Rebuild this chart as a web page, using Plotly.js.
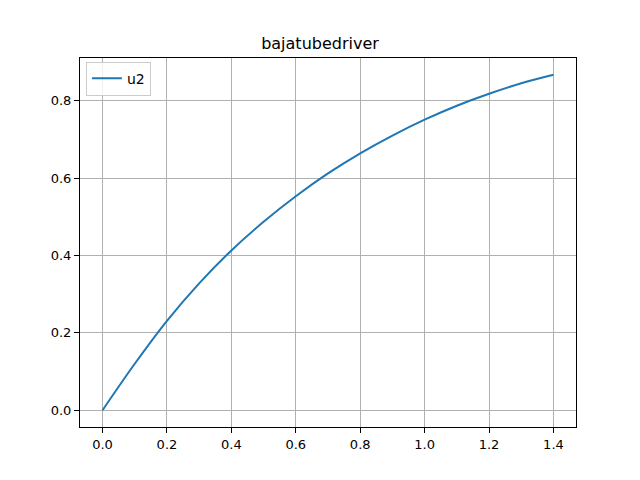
<!DOCTYPE html>
<html>
<head>
<meta charset="utf-8">
<script src="https://cdn.plot.ly/plotly-3.0.1.min.js"></script>
<style>html,body{margin:0;padding:0;background:#fff;}#chart{width:640px;height:480px;}</style>
</head>
<body>
<div id="chart"></div>
<script>
const xValues = [0.0, 0.1, 0.2, 0.3, 0.4, 0.5, 0.6, 0.7, 0.8, 0.9, 1.0, 1.1, 1.2, 1.3, 1.4];
const u2Values = [0.0, 0.120, 0.231, 0.328, 0.413, 0.487, 0.553, 0.612, 0.664, 0.710, 0.751, 0.787, 0.818, 0.845, 0.867];
const xTicks = [0.0, 0.2, 0.4, 0.6, 0.8, 1.0, 1.2, 1.4];
const xTickLabels = ["0.0", "0.2", "0.4", "0.6", "0.8", "1.0", "1.2", "1.4"];
const yTicks = [0.0, 0.2, 0.4, 0.6, 0.8];
const yTickLabels = ["0.0", "0.2", "0.4", "0.6", "0.8"];

const trace = {
  x: xValues, y: u2Values, type: 'scatter', mode: 'lines', name: 'u2',
  line: {color: '#1f77b4', width: 2, shape: 'spline'}
};
const axisCommon = {
  showgrid: true, gridcolor: '#b0b0b0', gridwidth: 1,
  showline: true, linecolor: '#000', linewidth: 1, mirror: true,
  ticks: 'outside', ticklen: 5, tickcolor: '#000', tickwidth: 1,
  zeroline: false, tickfont: {family: 'DejaVu Sans', size: 13, color: '#000'},
  tickmode: 'array'
};
const layout = {
  width: 640, height: 480,
  paper_bgcolor: '#fff', plot_bgcolor: '#fff',
  margin: {l: 80, r: 64, t: 58, b: 53},
  title: {text: 'bajatubedriver', font: {family: 'DejaVu Sans', size: 16, color: '#000'}, x: 0.5, xanchor: 'center', y: 1 - 43/480, yanchor: 'middle'},
  xaxis: Object.assign({}, axisCommon, {range: [-0.07, 1.47], tickvals: xTicks, ticktext: xTickLabels}),
  yaxis: Object.assign({}, axisCommon, {range: [-0.0434, 0.9104], tickvals: yTicks, ticktext: yTickLabels}),
  showlegend: true,
  legend: {x: 0.012, y: 0.99, xanchor: 'left', yanchor: 'top', bgcolor: 'rgba(255,255,255,0.8)', bordercolor: '#cccccc', borderwidth: 1, font: {family: 'DejaVu Sans', size: 14, color: '#000'}}
};
Plotly.newPlot('chart', [trace], layout, {displayModeBar: false, staticPlot: true});
</script>
</body>
</html>
